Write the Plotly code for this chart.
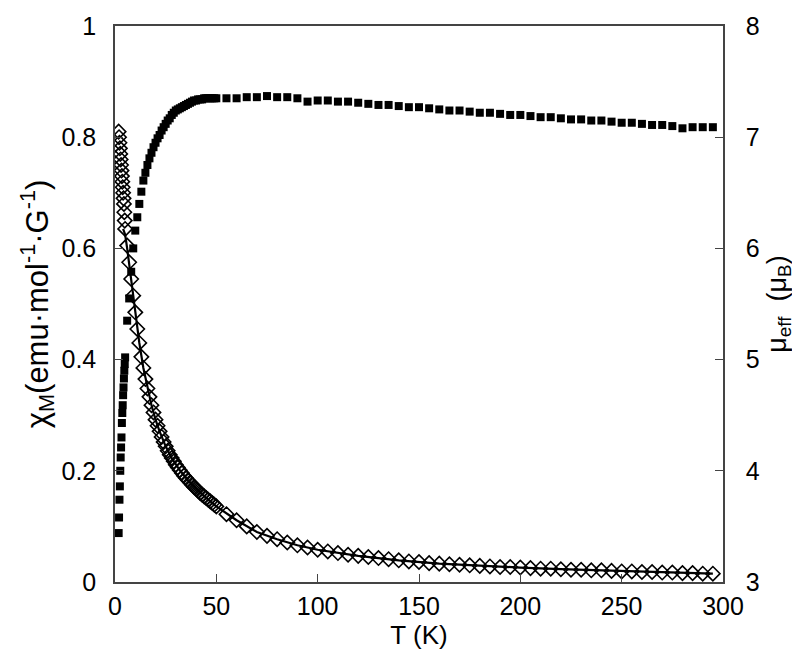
import plotly.graph_objects as go

# temperature points (K)
T_low = [1.8, 2.0, 2.2, 2.4, 2.6, 2.8, 3.0, 3.2, 3.4, 3.6, 3.8, 4.0, 4.2, 4.4, 4.6, 4.8, 5.0]
T_mid = [6, 7, 8, 9, 10, 11, 12, 13, 14, 15, 16, 17, 18, 19, 20, 21, 22, 23, 24, 25,
         26, 27, 28, 29, 30, 31, 32, 33, 34, 35, 36, 37, 38, 39, 40, 41, 42, 43, 44, 45,
         46, 47, 48, 49, 50]
T_high = [55, 60, 65, 70, 75, 80, 85, 90, 95, 100, 105, 110, 115, 120, 125, 130, 135, 140,
          145, 150, 155, 160, 165, 170, 175, 180, 185, 190, 195, 200, 205, 210, 215, 220,
          225, 230, 235, 240, 245, 250, 255, 260, 265, 270, 275, 280, 285, 290, 295]
T = T_low + T_mid + T_high

# chi_M (emu mol-1 G-1), open diamonds, left axis
chi = [0.81, 0.80, 0.79, 0.78, 0.77, 0.76, 0.75, 0.74, 0.73, 0.72, 0.71, 0.70, 0.69, 0.68, 0.665, 0.65, 0.635,
       0.605, 0.575, 0.545, 0.515, 0.485, 0.455, 0.43, 0.405, 0.385, 0.365, 0.348, 0.333, 0.318, 0.305,
       0.292, 0.281, 0.271, 0.261, 0.252, 0.244, 0.236, 0.229, 0.223, 0.217, 0.211, 0.206, 0.201, 0.196,
       0.191, 0.187, 0.183, 0.179, 0.175, 0.171, 0.168, 0.164, 0.160, 0.157, 0.154, 0.151, 0.148, 0.145,
       0.142, 0.139, 0.136,
       0.122, 0.111, 0.100, 0.090, 0.083, 0.077, 0.071, 0.066, 0.062, 0.058, 0.055, 0.052, 0.049, 0.047,
       0.045, 0.043, 0.041, 0.039, 0.037, 0.036, 0.034, 0.033, 0.032, 0.031, 0.030, 0.029, 0.028, 0.027,
       0.027, 0.026, 0.025, 0.024, 0.024, 0.023, 0.022, 0.022, 0.021, 0.021, 0.020, 0.019, 0.019, 0.018,
       0.018, 0.017, 0.017, 0.016, 0.016, 0.015, 0.015]

# mu_eff (mu_B), filled squares, right axis
mu = [3.44, 3.58, 3.74, 3.86, 4.00, 4.12, 4.21, 4.30, 4.43, 4.52, 4.59, 4.68, 4.75, 4.83, 4.90, 4.96, 5.02,
      5.35, 5.55, 5.79, 6.00, 6.16, 6.28, 6.40, 6.51, 6.61, 6.68, 6.75, 6.81, 6.86, 6.91, 6.95, 6.99,
      7.02, 7.06, 7.09, 7.12, 7.15, 7.17, 7.20, 7.22, 7.24, 7.25, 7.26, 7.27, 7.28, 7.29, 7.30, 7.31,
      7.32, 7.33, 7.33, 7.34, 7.34, 7.34, 7.35, 7.35, 7.35, 7.35, 7.35, 7.35, 7.35,
      7.35, 7.35, 7.36, 7.36, 7.37, 7.36, 7.36, 7.35, 7.32, 7.33, 7.33, 7.32, 7.32, 7.31, 7.30, 7.29,
      7.29, 7.28, 7.27, 7.27, 7.26, 7.25, 7.24, 7.24, 7.23, 7.22, 7.22, 7.21, 7.20, 7.20, 7.19, 7.18,
      7.18, 7.17, 7.16, 7.16, 7.15, 7.15, 7.14, 7.13, 7.13, 7.12, 7.11, 7.11, 7.10, 7.08, 7.09, 7.09, 7.09]

# fitted chi_M curve
T_fit = [4.0, 5, 6, 7, 8, 9, 10, 12, 14, 16, 18, 20, 22, 25, 28, 32, 36, 40, 45, 50, 60, 70, 80,
         90, 100, 120, 140, 160, 180, 200, 220, 240, 260, 280, 295]
chi_fit = [0.635, 0.625, 0.600, 0.572, 0.543, 0.513, 0.484, 0.43, 0.385, 0.348, 0.318, 0.292, 0.271,
           0.244, 0.223, 0.201, 0.183, 0.168, 0.151, 0.136, 0.111, 0.090, 0.077, 0.066, 0.058, 0.047,
           0.039, 0.033, 0.029, 0.026, 0.023, 0.021, 0.018, 0.016, 0.015]

fig = go.Figure()
fig.add_trace(go.Scatter(x=T, y=mu, mode="markers", yaxis="y2",
                         marker=dict(symbol="square", size=8, color="black", line=dict(width=0))))
fig.add_trace(go.Scatter(x=T_fit, y=chi_fit, mode="lines", line=dict(color="black", width=2.2)))
fig.add_trace(go.Scatter(x=T, y=chi, mode="markers",
                         marker=dict(symbol="diamond-open", size=11, color="black", line=dict(width=1.6))))

ff = "Liberation Sans, Arial, sans-serif"
tick_font = dict(family=ff, size=25, color="black")
axis_common = dict(showgrid=False, zeroline=False, showline=True, linecolor="#444", linewidth=1.5,
                   ticks="inside", ticklen=8, tickcolor="#444", tickfont=tick_font, automargin=False)

# page body has an 8px margin, so the figure is a bit smaller than the window
fig.update_layout(
    width=792, height=653, template="plotly_white", showlegend=False,
    plot_bgcolor="white", paper_bgcolor="white", font=tick_font,
    margin=dict(l=107, r=77, t=18, b=79),
    xaxis=dict(range=[0, 300], tickvals=[0, 50, 100, 150, 200, 250, 300], mirror=True,
               ticklabelstandoff=1,
               title=dict(text="T (K)", font=dict(family=ff, size=26, color="black"), standoff=0),
               **axis_common),
    yaxis=dict(range=[0, 1], tickvals=[0, 0.2, 0.4, 0.6, 0.8, 1], ticktext=["0", "0.2", "0.4", "0.6", "0.8", "1"],
               ticklabelstandoff=12,
               title=dict(text="χ<sub>M</sub>(emu·mol<sup>-1</sup>·G<sup>-1</sup>)",
                          font=dict(family=ff, size=31, color="black"), standoff=4),
               **axis_common),
    yaxis2=dict(range=[3, 8], tickvals=[3, 4, 5, 6, 7, 8], overlaying="y", side="right",
                ticklabelstandoff=16,
                title=dict(text="μ<sub>eff</sub>  (μ<sub>B</sub>)",
                           font=dict(family=ff, size=27, color="black"), standoff=8),
                **axis_common),
)

fig.write_html("out.html")
